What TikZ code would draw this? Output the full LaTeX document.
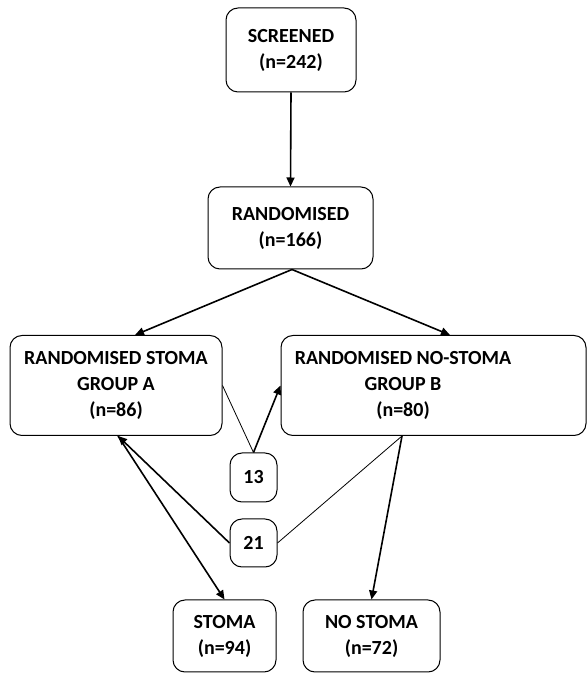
\documentclass[tikz,border=0pt]{standalone}
\usepackage{fontspec}
\setmainfont{Carlito}
\usetikzlibrary{arrows.meta}
\begin{document}
\begin{tikzpicture}[x=1pt,y=1pt,
  box/.style={draw,line width=1pt,rounded corners=12pt,align=center,inner sep=0pt,
    font=\fontsize{20}{26}\selectfont\bfseries},
  thickarrow/.style={line width=1.6pt,-{Triangle[length=9pt,width=8pt]}},
  thinline/.style={line width=0.8pt}]
\useasboundingbox (0,0) rectangle (588,681);
\node[box,minimum width=130pt,minimum height=84pt] (scr) at (291,631) {SCREENED\\(n=242)};
\node[box,minimum width=165pt,minimum height=82pt] (ran) at (290.5,453) {RANDOMISED\\(n=166)};
\node[box,minimum width=212pt,minimum height=100pt] (ga) at (116,295.5) {RANDOMISED STOMA\\GROUP A\\(n=86)};
\node[box,minimum width=305pt,minimum height=100pt,
  label={[xshift=-30.5pt,align=center,font=\fontsize{20}{26}\selectfont\bfseries]center:RANDOMISED NO-STOMA\\GROUP B\\(n=80)}] (gb) at (433.5,295.5) {};
\node[box,minimum width=47pt,minimum height=49pt] (n13) at (253.5,203.5) {13};
\node[box,minimum width=47pt,minimum height=48pt] (n21) at (253.5,138) {21};
\node[box,minimum width=103pt,minimum height=72pt] (st) at (224.5,45) {STOMA\\(n=94)};
\node[box,minimum width=137pt,minimum height=72pt] (ns) at (371.5,45) {NO STOMA\\(n=72)};
\draw[thickarrow] (scr.south) -- (ran.north);
\draw[thickarrow] ([xshift=1.5pt]ran.south) -- ([xshift=19pt]ga.north);
\draw[thickarrow] ([xshift=1.5pt]ran.south) -- ([xshift=16.5pt]gb.north);
\draw[thinline] (ga.east) -- (n13.north);
\draw[thickarrow] (n13.north) -- (gb.west);
\draw[thickarrow] (n21.west) -- ([xshift=2pt]ga.south);
\draw[thinline] (n21.east) -- ([xshift=-31.5pt]gb.south);
\draw[thickarrow] ([xshift=2pt]ga.south) -- (st.north);
\draw[thickarrow] ([xshift=-31.5pt]gb.south) -- (ns.north);
\end{tikzpicture}
\end{document}
